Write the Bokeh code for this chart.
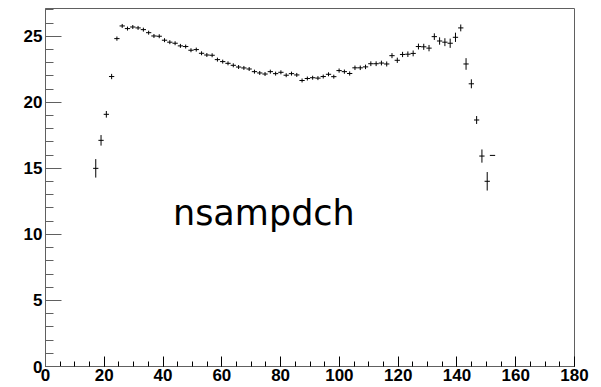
from bokeh.plotting import figure
from bokeh.models import SingleIntervalTicker, Range1d
from bokeh.core.properties import value
from bokeh.embed import file_html
from bokeh.resources import INLINE

# bin centres (100 bins over 0..180, width 1.8) that hold entries
bin_centers = [17.1, 18.9, 20.7, 22.5, 24.3, 26.1, 27.9, 29.7, 31.5, 33.3,
               35.1, 36.9, 38.7, 40.5, 42.3, 44.1, 45.9, 47.7, 49.5, 51.3,
               53.1, 54.9, 56.7, 58.5, 60.3, 62.1, 63.9, 65.7, 67.5, 69.3,
               71.1, 72.9, 74.7, 76.5, 78.3, 80.1, 81.9, 83.7, 85.5, 87.3,
               89.1, 90.9, 92.7, 94.5, 96.3, 98.1, 99.9, 101.7, 103.5, 105.3,
               107.1, 108.9, 110.7, 112.5, 114.3, 116.1, 117.9, 119.7, 121.5, 123.3,
               125.1, 126.9, 128.7, 130.5, 132.3, 134.1, 135.9, 137.7, 139.5, 141.3,
               143.1, 144.9, 146.7, 148.5, 150.3, 152.1]
bin_width = 1.8

values = [15.0, 17.12, 19.09, 21.95, 24.82, 25.78, 25.58, 25.70, 25.63, 25.50,
          25.27, 25.02, 25.00, 24.70, 24.55, 24.47, 24.27, 24.22, 23.94, 23.99,
          23.71, 23.58, 23.56, 23.23, 23.08, 22.95, 22.80, 22.67, 22.60, 22.52,
          22.32, 22.22, 22.14, 22.32, 22.17, 22.27, 22.05, 22.17, 22.07, 21.65,
          21.80, 21.86, 21.83, 21.95, 22.12, 21.94, 22.40, 22.32, 22.18, 22.61,
          22.61, 22.68, 22.92, 22.92, 22.97, 22.90, 23.53, 23.18, 23.62, 23.64,
          23.70, 24.22, 24.20, 24.10, 24.97, 24.64, 24.55, 24.47, 24.92, 25.63,
          22.90, 21.40, 18.66, 15.93, 14.02, 15.98]

errors = [0.70, 0.40, 0.25, 0.20, 0.16, 0.15, 0.15, 0.15, 0.15, 0.15,
          0.15, 0.15, 0.15, 0.15, 0.15, 0.15, 0.15, 0.15, 0.15, 0.15,
          0.15, 0.15, 0.15, 0.15, 0.15, 0.15, 0.15, 0.15, 0.15, 0.15,
          0.15, 0.15, 0.15, 0.15, 0.15, 0.15, 0.15, 0.15, 0.15, 0.15,
          0.15, 0.15, 0.15, 0.15, 0.15, 0.15, 0.16, 0.16, 0.16, 0.17,
          0.17, 0.17, 0.18, 0.18, 0.18, 0.19, 0.19, 0.20, 0.20, 0.21,
          0.22, 0.22, 0.23, 0.24, 0.25, 0.28, 0.30, 0.35, 0.35, 0.26,
          0.44, 0.34, 0.30, 0.50, 0.70, 0.0]

title_text = "nsampdch"

x_ticks_interval = 20
y_ticks_interval = 5

p = figure(width=601, height=387, output_backend="svg", toolbar_location=None,
           x_range=Range1d(0, 180), y_range=Range1d(0, 27.1),
           min_border_left=45, min_border_right=27, min_border_top=8, min_border_bottom=21)
p.background_fill_color = "white"
p.border_fill_color = "white"
p.outline_line_color = "#606060"
p.outline_line_width = 1
p.xgrid.visible = False
p.ygrid.visible = False

xc = bin_centers
lo = [v - e for v, e in zip(values, errors)]
hi = [v + e for v, e in zip(values, errors)]
x0 = [c - bin_width / 2 for c in xc]
x1 = [c + bin_width / 2 for c in xc]
p.segment(x0=xc, y0=lo, x1=xc, y1=hi, line_color="black", line_width=1)
p.segment(x0=x0, y0=values, x1=x1, y1=values, line_color="black", line_width=1)

p.text(x=[74.3], y=[11.6], text=[title_text], text_font=value("DejaVu Sans"),
       text_font_size="35px", text_align="center", text_baseline="alphabetic",
       text_color="black")

xa = p.xaxis[0]
xa.ticker = SingleIntervalTicker(interval=x_ticks_interval, num_minor_ticks=4)
xa.major_tick_in = 10
xa.major_tick_out = 0
xa.minor_tick_in = 5
xa.minor_tick_out = 0
xa.axis_line_color = "#606060"
xa.major_tick_line_color = "black"
xa.minor_tick_line_color = "black"
xa.major_label_text_font = "Liberation Sans"
xa.major_label_text_font_style = "bold"
xa.major_label_text_font_size = "17px"
xa.major_label_text_color = "black"
xa.major_label_standoff = 2

ya = p.yaxis[0]
ya.ticker = SingleIntervalTicker(interval=y_ticks_interval, num_minor_ticks=5)
ya.major_tick_in = 16
ya.major_tick_out = 0
ya.minor_tick_in = 8
ya.minor_tick_out = 0
ya.axis_line_color = "#606060"
ya.major_tick_line_color = "#606060"
ya.minor_tick_line_color = "#606060"
ya.major_label_text_font = "Liberation Sans"
ya.major_label_text_font_style = "bold"
ya.major_label_text_font_size = "17px"
ya.major_label_text_color = "black"
ya.major_label_standoff = 3

open("out.html", "w").write(file_html(p, INLINE))
